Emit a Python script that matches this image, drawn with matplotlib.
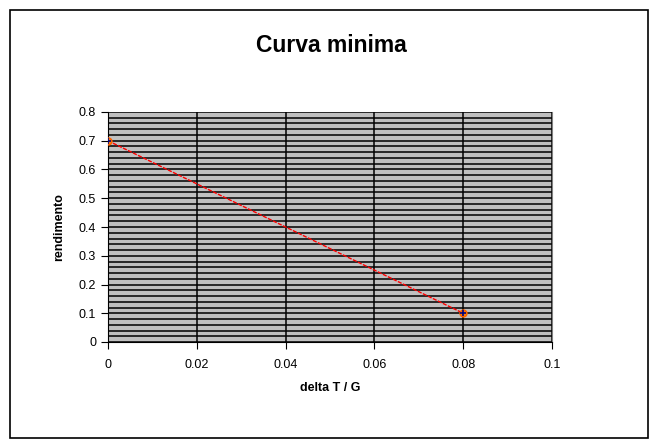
import numpy as np
import matplotlib.pyplot as plt
from matplotlib.patches import Rectangle

plt.rcParams['font.family'] = ['Liberation Sans', 'DejaVu Sans']

delta_t_g = [0.0, 0.08]
rendimento = [0.7, 0.1]

fig = plt.figure(figsize=(6.58, 4.48), dpi=100)
ax = fig.add_axes([108 / 658, 1 - 342 / 448, 444 / 658, 230 / 448])

# frame round the whole chart
fig.patches.append(Rectangle((10 / 658, 10 / 448), 638 / 658, 428 / 448,
                             transform=fig.transFigure, fill=False,
                             edgecolor='black', linewidth=1.2))

ax.set_facecolor('#c0c0c0')
ax.set_xlim(0, 0.1)
ax.set_ylim(0, 0.8)
ax.set_xticks(np.arange(0, 0.101, 0.02))
ax.set_yticks(np.arange(0, 0.801, 0.1))
ax.set_yticks(np.arange(0, 0.801, 0.02), minor=True)
ax.set_xticklabels(['0', '0.02', '0.04', '0.06', '0.08', '0.1'])
ax.set_yticklabels(['0', '0.1', '0.2', '0.3', '0.4', '0.5', '0.6', '0.7', '0.8'])
ax.grid(True, which='both', axis='y', color='black', linewidth=1.1)
ax.grid(True, which='major', axis='x', color='black', linewidth=1.1)
ax.set_axisbelow(True)
ax.tick_params(axis='both', which='major', direction='out', length=5,
               labelsize=9, colors='black')
ax.tick_params(axis='x', pad=7)
ax.tick_params(axis='y', which='minor', length=0)

ax.spines['top'].set_visible(False)
ax.spines['right'].set_color('#808080')
ax.spines['left'].set_color('black')
ax.spines['bottom'].set_color('black')

ax.plot(delta_t_g, rendimento, color='red', linestyle=(0, (3, 1)),
        linewidth=1.0, marker='o', markersize=5,
        markerfacecolor='#ff8000', markeredgecolor='#ff6000', zorder=3)
ax.plot(delta_t_g, rendimento, linestyle='none', marker='+', markersize=4,
        color='#000080', markeredgewidth=1.2, zorder=4)

fig.text(331 / 658, 1 - 45 / 448, 'Curva minima', ha='center', va='center',
         fontsize=16.5, fontweight='bold')
ax.set_xlabel('delta T / G', fontsize=9, fontweight='bold', labelpad=8)
ax.set_ylabel('rendimento', fontsize=9, fontweight='bold', labelpad=10)

plt.savefig('out.png', dpi=100)
